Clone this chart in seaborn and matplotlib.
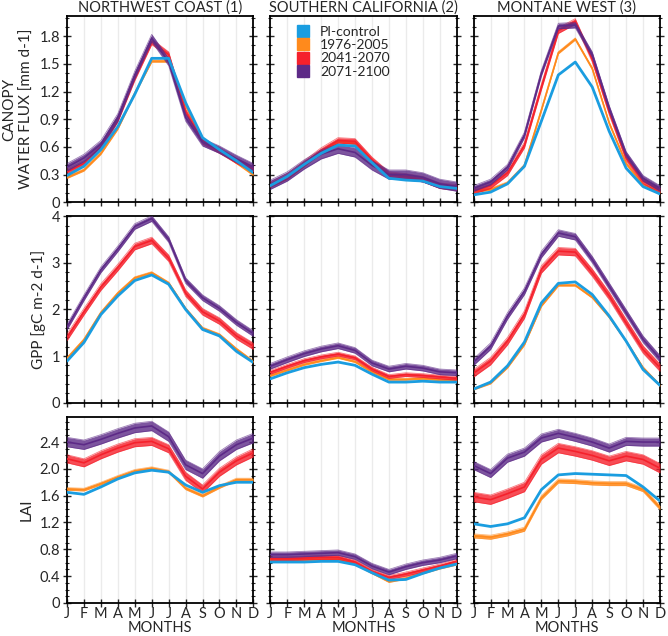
import numpy as np
import pandas as pd
import matplotlib
matplotlib.use("Agg")
import matplotlib.pyplot as plt
from matplotlib.lines import Line2D
from matplotlib.ticker import MultipleLocator
import seaborn as sns

# ---------------- data ----------------
months = list(range(1, 13))
month_labels = ["J", "F", "M", "A", "M", "J", "J", "A", "S", "O", "N", "D"]
regions = ["NORTHWEST COAST (1)", "SOUTHERN CALIFORNIA (2)", "MONTANE WEST (3)"]
periods = ["PI-control", "1976-2005", "2041-2070", "2071-2100"]

# canopy water flux [mm d-1]
cwf_nw = {
    "PI-control": [0.29, 0.39, 0.57, 0.82, 1.17, 1.56, 1.56, 1.08, 0.70, 0.57, 0.45, 0.32],
    "1976-2005": [0.27, 0.35, 0.53, 0.80, 1.18, 1.53, 1.53, 1.05, 0.68, 0.56, 0.43, 0.30],
    "2041-2070": [0.33, 0.42, 0.60, 0.90, 1.35, 1.74, 1.60, 0.98, 0.66, 0.56, 0.45, 0.36],
    "2071-2100": [0.38, 0.48, 0.63, 0.92, 1.38, 1.78, 1.52, 0.92, 0.65, 0.57, 0.47, 0.38],
}
cwf_sc = {
    "PI-control": [0.18, 0.28, 0.41, 0.53, 0.62, 0.61, 0.43, 0.26, 0.24, 0.23, 0.17, 0.15],
    "1976-2005": [0.18, 0.26, 0.40, 0.54, 0.66, 0.64, 0.45, 0.27, 0.25, 0.24, 0.18, 0.15],
    "2041-2070": [0.19, 0.28, 0.42, 0.56, 0.67, 0.66, 0.46, 0.30, 0.28, 0.25, 0.18, 0.16],
    "2071-2100": [0.19, 0.28, 0.41, 0.52, 0.58, 0.54, 0.40, 0.30, 0.30, 0.27, 0.20, 0.17],
}
cwf_mw = {
    "PI-control": [0.08, 0.11, 0.20, 0.39, 0.88, 1.38, 1.52, 1.25, 0.77, 0.37, 0.17, 0.09],
    "1976-2005": [0.12, 0.14, 0.21, 0.40, 1.00, 1.62, 1.77, 1.45, 0.86, 0.42, 0.19, 0.11],
    "2041-2070": [0.12, 0.18, 0.32, 0.62, 1.25, 1.86, 1.96, 1.55, 0.98, 0.48, 0.23, 0.13],
    "2071-2100": [0.15, 0.22, 0.38, 0.73, 1.40, 1.91, 1.92, 1.60, 1.02, 0.52, 0.26, 0.15],
}

# GPP [gC m-2 d-1]
gpp_nw = {
    "PI-control": [0.89, 1.29, 1.89, 2.29, 2.62, 2.74, 2.54, 2.00, 1.57, 1.43, 1.10, 0.86],
    "1976-2005": [0.95, 1.35, 1.93, 2.35, 2.68, 2.79, 2.57, 2.02, 1.60, 1.46, 1.15, 0.88],
    "2041-2070": [1.40, 1.95, 2.48, 2.90, 3.35, 3.48, 3.10, 2.35, 1.95, 1.75, 1.43, 1.21],
    "2071-2100": [1.62, 2.25, 2.85, 3.30, 3.78, 3.95, 3.50, 2.62, 2.25, 2.02, 1.72, 1.48],
}
gpp_sc = {
    "PI-control": [0.51, 0.64, 0.75, 0.82, 0.87, 0.80, 0.61, 0.44, 0.44, 0.46, 0.44, 0.44],
    "1976-2005": [0.58, 0.70, 0.82, 0.90, 0.97, 0.88, 0.66, 0.50, 0.50, 0.52, 0.49, 0.48],
    "2041-2070": [0.65, 0.78, 0.90, 0.98, 1.04, 0.96, 0.72, 0.56, 0.60, 0.58, 0.55, 0.52],
    "2071-2100": [0.78, 0.92, 1.05, 1.15, 1.22, 1.12, 0.85, 0.72, 0.78, 0.74, 0.66, 0.64],
}
gpp_mw = {
    "PI-control": [0.29, 0.44, 0.79, 1.30, 2.14, 2.56, 2.59, 2.32, 1.86, 1.32, 0.71, 0.37],
    "1976-2005": [0.29, 0.42, 0.76, 1.25, 2.08, 2.52, 2.52, 2.26, 1.84, 1.32, 0.75, 0.37],
    "2041-2070": [0.63, 0.89, 1.32, 1.89, 2.86, 3.25, 3.23, 2.79, 2.29, 1.71, 1.14, 0.75],
    "2071-2100": [0.87, 1.21, 1.86, 2.39, 3.18, 3.64, 3.56, 3.07, 2.50, 1.93, 1.36, 0.94],
}

# LAI
lai_nw = {
    "PI-control": [1.65, 1.62, 1.73, 1.85, 1.94, 1.98, 1.95, 1.76, 1.65, 1.75, 1.80, 1.80],
    "1976-2005": [1.70, 1.69, 1.78, 1.88, 1.97, 2.01, 1.96, 1.71, 1.60, 1.73, 1.84, 1.84],
    "2041-2070": [2.15, 2.09, 2.21, 2.31, 2.39, 2.41, 2.30, 1.89, 1.70, 1.95, 2.12, 2.24],
    "2071-2100": [2.40, 2.36, 2.44, 2.53, 2.61, 2.64, 2.48, 2.06, 1.93, 2.19, 2.36, 2.46],
}
lai_sc = {
    "PI-control": [0.61, 0.61, 0.61, 0.62, 0.62, 0.57, 0.45, 0.34, 0.35, 0.44, 0.52, 0.58],
    "1976-2005": [0.64, 0.64, 0.65, 0.65, 0.65, 0.59, 0.45, 0.32, 0.37, 0.45, 0.52, 0.58],
    "2041-2070": [0.66, 0.66, 0.67, 0.68, 0.68, 0.61, 0.47, 0.38, 0.43, 0.49, 0.55, 0.62],
    "2071-2100": [0.72, 0.72, 0.73, 0.74, 0.75, 0.69, 0.55, 0.46, 0.54, 0.60, 0.64, 0.70],
}
lai_mw = {
    "PI-control": [1.18, 1.14, 1.18, 1.27, 1.69, 1.91, 1.93, 1.92, 1.91, 1.90, 1.73, 1.52],
    "1976-2005": [1.00, 0.98, 1.03, 1.10, 1.57, 1.82, 1.81, 1.79, 1.78, 1.78, 1.69, 1.42],
    "2041-2070": [1.58, 1.54, 1.63, 1.73, 2.14, 2.31, 2.26, 2.20, 2.12, 2.19, 2.14, 2.01],
    "2071-2100": [2.05, 1.93, 2.16, 2.25, 2.46, 2.53, 2.47, 2.40, 2.31, 2.41, 2.40, 2.40],
}

# ensemble half-widths (orange, red, purple)
spread = {
    ("cwf", 0): [0.012, 0.03, 0.04], ("cwf", 1): [0.012, 0.03, 0.05], ("cwf", 2): [0.012, 0.03, 0.03],
    ("gpp", 0): [0.02, 0.07, 0.06], ("gpp", 1): [0.02, 0.04, 0.06], ("gpp", 2): [0.02, 0.08, 0.07],
    ("lai", 0): [0.02, 0.06, 0.07], ("lai", 1): [0.015, 0.03, 0.04], ("lai", 2): [0.03, 0.07, 0.06],
}

variables = ["cwf", "gpp", "lai"]
panel_data = {
    "cwf": [cwf_nw, cwf_sc, cwf_mw],
    "gpp": [gpp_nw, gpp_sc, gpp_mw],
    "lai": [lai_nw, lai_sc, lai_mw],
}
ylabels = {"cwf": "CANOPY\nWATER FLUX [mm d-1]", "gpp": "GPP [gC m-2 d-1]", "lai": "LAI"}
ylims = {"cwf": (0, 2.02), "gpp": (0, 4.0), "lai": (0, 2.78)}
ymajor = {"cwf": 0.3, "gpp": 1.0, "lai": 0.4}
yminor = {"cwf": 0.1, "gpp": 0.2, "lai": 0.1}
yfmt = {"cwf": lambda v: "0" if v == 0 else f"{v:.1f}",
        "gpp": lambda v: f"{v:.0f}",
        "lai": lambda v: "0" if v == 0 else f"{v:.1f}"}

colors = {"PI-control": "#1a9de0", "1976-2005": "#ff8a1c",
          "2041-2070": "#f5212c", "2071-2100": "#5d2a87"}
zorders = {"PI-control": 6, "1976-2005": 3, "2041-2070": 4, "2071-2100": 5}

rows = []
for var in variables:
    for ri, d in enumerate(panel_data[var]):
        for p in periods:
            for m, v in zip(months, d[p]):
                rows.append({"var": var, "region": ri, "period": p, "month": m, "value": v})
df = pd.DataFrame(rows)

# ---------------- plot ----------------
sns.set_theme(style="white")
plt.rcParams["font.family"] = ["Lato", "DejaVu Sans"]

fig, axes = plt.subplots(3, 3, figsize=(6.68, 6.36), dpi=100)
fig.subplots_adjust(left=0.1003, right=0.988, bottom=0.052, top=0.975,
                    wspace=0.091, hspace=0.075)

for i, var in enumerate(variables):
    for j in range(3):
        ax = axes[i, j]
        sub = df[(df["var"] == var) & (df["region"] == j)]
        for m in months:
            ax.axvline(m, color="#ebebeb", lw=1, zorder=0)
        for k, p in enumerate(periods):
            s = sub[sub["period"] == p]
            if k > 0:
                w = spread[(var, j)][k - 1]
                ax.fill_between(s["month"], s["value"] - w, s["value"] + w,
                                color=colors[p], alpha=0.8, lw=0, zorder=zorders[p])
                for off in (-w, w):
                    ax.plot(s["month"], s["value"] + off, color=colors[p],
                            lw=0.6, alpha=0.6, zorder=zorders[p])
            sns.lineplot(data=s, x="month", y="value", color=colors[p],
                         lw=2.0 if k == 0 else 1.2, ax=ax, zorder=zorders[p],
                         legend=False)

        ax.set_xlim(1, 12)
        ax.set_ylim(*ylims[var])
        ax.set_xticks(months)
        ax.yaxis.set_major_locator(MultipleLocator(ymajor[var]))
        ax.yaxis.set_minor_locator(MultipleLocator(yminor[var]))
        ax.tick_params(axis="x", which="major", direction="inout", length=6,
                       width=1, bottom=True, top=False, labelsize=10.5, pad=0)
        ax.tick_params(axis="y", which="major", direction="inout", length=6,
                       width=1, left=True, right=True, labelsize=10.5, pad=2)
        ax.tick_params(axis="y", which="minor", direction="inout", length=3,
                       width=0.8, left=True, right=True)
        for sp in ax.spines.values():
            sp.set_color("black")
            sp.set_linewidth(1.3)

        if i == 2:
            ax.set_xticklabels(month_labels)
            ax.set_xlabel("MONTHS", fontsize=10.5, labelpad=0)
        else:
            ax.set_xticklabels([])
            ax.set_xlabel("")
        if j == 0:
            ticks = ax.get_yticks()
            ticks = [t for t in ticks if ylims[var][0] <= t <= ylims[var][1] + 1e-9]
            ax.set_yticks(ticks)
            ax.set_yticklabels([yfmt[var](t) for t in ticks])
            ax.set_ylabel(ylabels[var], fontsize=11, labelpad=4, linespacing=1.3)
        else:
            ax.set_yticklabels([])
            ax.set_ylabel("")
        if i == 0:
            ax.set_title(regions[j], fontsize=10.5, pad=3)

handles = [Line2D([0], [0], marker="s", linestyle="none", markersize=8,
                  markerfacecolor=colors[p], markeredgecolor=colors[p]) for p in periods]
axes[0, 1].legend(handles, periods, loc="upper left", frameon=False, fontsize=10,
                  handletextpad=0.2, labelspacing=0.1, borderaxespad=0.3,
                  bbox_to_anchor=(0.05, 1.0))

fig.savefig("out.png", dpi=100)
